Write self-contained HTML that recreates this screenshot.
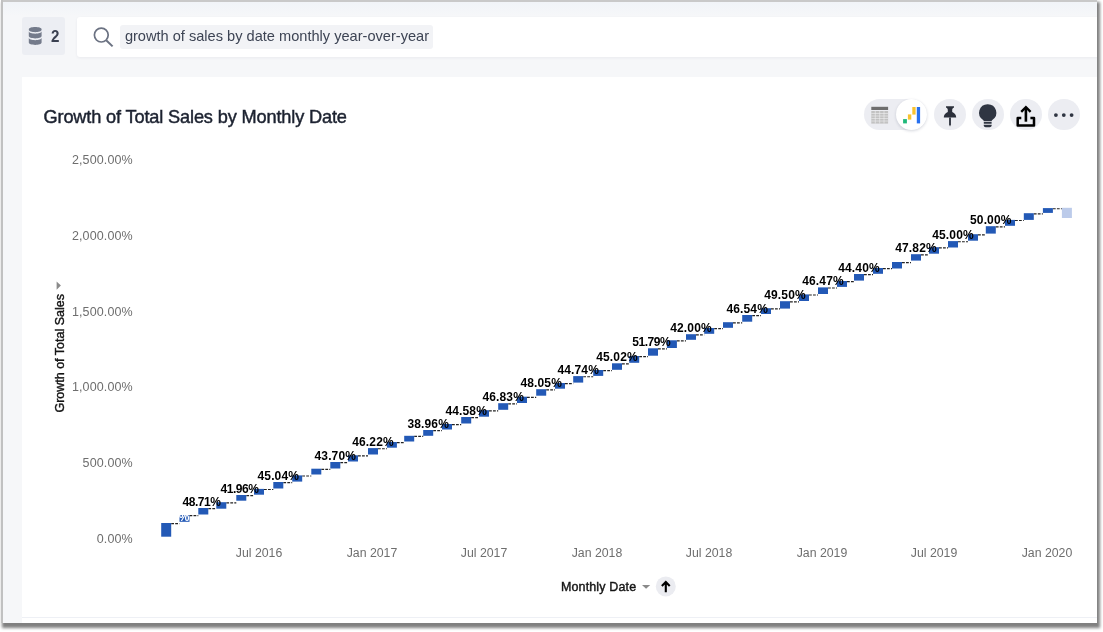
<!DOCTYPE html>
<html><head><meta charset="utf-8"><title>Growth of Total Sales by Monthly Date</title>
<style>
html,body{margin:0;padding:0;background:#fff;}
body{width:1103px;height:632px;position:relative;overflow:hidden;font-family:"Liberation Sans",sans-serif;}
.frame{position:absolute;left:1px;top:0;width:1095.6px;height:623.2px;background:linear-gradient(#f1f4f8 2px,#f6f7f9 16px);overflow:hidden;}
.wrap{position:absolute;left:2px;top:1.5px;width:1097.7px;height:626.2px;background:#808080;filter:blur(1.5px);}
.bt{position:absolute;left:0;top:0;width:1096px;height:2px;background:#c9c9c9;}
.bl{position:absolute;left:0;top:0;width:2px;height:624px;background:#c1c1c1;}
.ds{position:absolute;left:21px;top:17px;width:43px;height:38.4px;background:#eceef3;border-radius:3px;}
.ds span{position:absolute;left:29.2px;top:9.5px;font-size:17.2px;font-weight:bold;color:#3a4050;line-height:18px;transform:scaleX(.88);transform-origin:0 0;}
.sb{position:absolute;left:76px;top:17px;width:1030px;height:40px;background:#fff;border-radius:3px;box-shadow:0 1px 3px rgba(30,40,70,.06);}
.tok{position:absolute;left:43.2px;top:8.1px;width:312.5px;height:23.6px;background:#f2f3f6;border-radius:3px;}
.tok span{position:absolute;left:4.7px;top:.4px;line-height:23px;font-size:14.6px;color:#3d4454;white-space:nowrap;}
.card{position:absolute;left:21px;top:77px;width:1080px;height:560px;background:#fff;}
.title{position:absolute;left:42.5px;top:105.2px;font-size:18.2px;letter-spacing:-.155px;line-height:24px;color:#1c2230;white-space:nowrap;-webkit-text-stroke:0.45px #1c2230;}
.hl{position:absolute;left:21px;top:617px;width:1080px;height:1px;background:#eef0f5;}
svg.chart{position:absolute;left:-1px;top:0;}
.dl{font-size:12px;letter-spacing:.15px;font-weight:bold;fill:#000;font-family:"Liberation Sans",sans-serif;}
.dlo{stroke:#fff;stroke-width:2px;stroke-linejoin:round;fill:#fff;}
.ax{font-size:12.5px;letter-spacing:.12px;fill:#6e6e6e;font-family:"Liberation Sans",sans-serif;}
.ax2{font-size:12.3px;letter-spacing:0;}
.at{font-size:12.5px;letter-spacing:.14px;fill:#141414;font-family:"Liberation Sans",sans-serif;stroke:#141414;stroke-width:.4px;}
.pill{position:absolute;left:862.8px;top:99.2px;width:63.2px;height:31.2px;border-radius:16px;background:#ecedf2;}
.knob{position:absolute;left:895.1px;top:99.2px;width:31px;height:31.2px;border-radius:16px;background:#fff;box-shadow:0 1px 3px rgba(30,40,70,.18);}
.cb{position:absolute;top:99.1px;width:31.9px;height:31.4px;border-radius:16px;background:#ecedf2;}
svg.ic{position:absolute;left:-1px;top:0;}
</style></head><body>
<div class="wrap"></div>
<div class="frame">
 <div class="ds"><span>2</span></div>
 <div class="sb"><div class="tok"><span>growth of sales by date monthly year-over-year</span></div></div>
 <div class="card"></div>
 <div class="hl"></div>
 <div class="title">Growth of Total Sales by Monthly Date</div>
 <div class="pill"></div><div class="knob"></div>
 <div class="cb" style="left:932.7px"></div><div class="cb" style="left:970.8px"></div><div class="cb" style="left:1008.9px"></div><div class="cb" style="left:1046.9px"></div>
 <svg class="chart" width="1103" height="632" viewBox="0 0 1103 632">
 <line x1="171.2" y1="523.6" x2="179.5" y2="523.6" stroke="#222" stroke-width="1.15" stroke-dasharray="2.8 1.2"/>
<line x1="189.5" y1="515.6" x2="198.3" y2="515.6" stroke="#222" stroke-width="1.15" stroke-dasharray="2.8 1.2"/>
<line x1="208.3" y1="508.6" x2="216.3" y2="508.6" stroke="#222" stroke-width="1.15" stroke-dasharray="2.8 1.2"/>
<line x1="226.3" y1="502.8" x2="236.3" y2="502.8" stroke="#222" stroke-width="1.15" stroke-dasharray="2.8 1.2"/>
<line x1="246.3" y1="495.6" x2="254.0" y2="495.6" stroke="#222" stroke-width="1.15" stroke-dasharray="2.8 1.2"/>
<line x1="264.0" y1="489.5" x2="273.3" y2="489.5" stroke="#222" stroke-width="1.15" stroke-dasharray="2.8 1.2"/>
<line x1="283.3" y1="482.6" x2="292.2" y2="482.6" stroke="#222" stroke-width="1.15" stroke-dasharray="2.8 1.2"/>
<line x1="302.2" y1="476.0" x2="311.3" y2="476.0" stroke="#222" stroke-width="1.15" stroke-dasharray="2.8 1.2"/>
<line x1="321.3" y1="469.3" x2="330.3" y2="469.3" stroke="#222" stroke-width="1.15" stroke-dasharray="2.8 1.2"/>
<line x1="340.3" y1="462.6" x2="348.0" y2="462.6" stroke="#222" stroke-width="1.15" stroke-dasharray="2.8 1.2"/>
<line x1="358.0" y1="455.9" x2="368.0" y2="455.9" stroke="#222" stroke-width="1.15" stroke-dasharray="2.8 1.2"/>
<line x1="378.0" y1="448.7" x2="386.9" y2="448.7" stroke="#222" stroke-width="1.15" stroke-dasharray="2.8 1.2"/>
<line x1="396.9" y1="442.6" x2="404.2" y2="442.6" stroke="#222" stroke-width="1.15" stroke-dasharray="2.8 1.2"/>
<line x1="414.2" y1="436.4" x2="423.2" y2="436.4" stroke="#222" stroke-width="1.15" stroke-dasharray="2.8 1.2"/>
<line x1="433.2" y1="430.6" x2="442.0" y2="430.6" stroke="#222" stroke-width="1.15" stroke-dasharray="2.8 1.2"/>
<line x1="452.0" y1="424.6" x2="461.2" y2="424.6" stroke="#222" stroke-width="1.15" stroke-dasharray="2.8 1.2"/>
<line x1="471.2" y1="417.6" x2="479.0" y2="417.6" stroke="#222" stroke-width="1.15" stroke-dasharray="2.8 1.2"/>
<line x1="489.0" y1="410.8" x2="498.2" y2="410.8" stroke="#222" stroke-width="1.15" stroke-dasharray="2.8 1.2"/>
<line x1="508.2" y1="403.8" x2="517.0" y2="403.8" stroke="#222" stroke-width="1.15" stroke-dasharray="2.8 1.2"/>
<line x1="527.0" y1="397.3" x2="536.2" y2="397.3" stroke="#222" stroke-width="1.15" stroke-dasharray="2.8 1.2"/>
<line x1="546.2" y1="389.8" x2="555.0" y2="389.8" stroke="#222" stroke-width="1.15" stroke-dasharray="2.8 1.2"/>
<line x1="565.0" y1="383.6" x2="573.2" y2="383.6" stroke="#222" stroke-width="1.15" stroke-dasharray="2.8 1.2"/>
<line x1="583.2" y1="376.7" x2="593.2" y2="376.7" stroke="#222" stroke-width="1.15" stroke-dasharray="2.8 1.2"/>
<line x1="603.2" y1="370.6" x2="612.0" y2="370.6" stroke="#222" stroke-width="1.15" stroke-dasharray="2.8 1.2"/>
<line x1="622.0" y1="363.9" x2="629.2" y2="363.9" stroke="#222" stroke-width="1.15" stroke-dasharray="2.8 1.2"/>
<line x1="639.2" y1="356.6" x2="648.0" y2="356.6" stroke="#222" stroke-width="1.15" stroke-dasharray="2.8 1.2"/>
<line x1="658.0" y1="348.9" x2="666.9" y2="348.9" stroke="#222" stroke-width="1.15" stroke-dasharray="2.8 1.2"/>
<line x1="676.9" y1="340.9" x2="686.0" y2="340.9" stroke="#222" stroke-width="1.15" stroke-dasharray="2.8 1.2"/>
<line x1="696.0" y1="334.8" x2="704.2" y2="334.8" stroke="#222" stroke-width="1.15" stroke-dasharray="2.8 1.2"/>
<line x1="714.2" y1="328.6" x2="723.0" y2="328.6" stroke="#222" stroke-width="1.15" stroke-dasharray="2.8 1.2"/>
<line x1="733.0" y1="322.8" x2="742.2" y2="322.8" stroke="#222" stroke-width="1.15" stroke-dasharray="2.8 1.2"/>
<line x1="752.2" y1="315.6" x2="761.0" y2="315.6" stroke="#222" stroke-width="1.15" stroke-dasharray="2.8 1.2"/>
<line x1="771.0" y1="308.8" x2="780.0" y2="308.8" stroke="#222" stroke-width="1.15" stroke-dasharray="2.8 1.2"/>
<line x1="790.0" y1="301.8" x2="799.0" y2="301.8" stroke="#222" stroke-width="1.15" stroke-dasharray="2.8 1.2"/>
<line x1="809.0" y1="295.0" x2="818.0" y2="295.0" stroke="#222" stroke-width="1.15" stroke-dasharray="2.8 1.2"/>
<line x1="828.0" y1="288.0" x2="837.0" y2="288.0" stroke="#222" stroke-width="1.15" stroke-dasharray="2.8 1.2"/>
<line x1="847.0" y1="281.6" x2="854.0" y2="281.6" stroke="#222" stroke-width="1.15" stroke-dasharray="2.8 1.2"/>
<line x1="864.0" y1="274.6" x2="873.0" y2="274.6" stroke="#222" stroke-width="1.15" stroke-dasharray="2.8 1.2"/>
<line x1="883.0" y1="268.6" x2="892.0" y2="268.6" stroke="#222" stroke-width="1.15" stroke-dasharray="2.8 1.2"/>
<line x1="902.0" y1="262.6" x2="911.0" y2="262.6" stroke="#222" stroke-width="1.15" stroke-dasharray="2.8 1.2"/>
<line x1="921.0" y1="254.8" x2="929.0" y2="254.8" stroke="#222" stroke-width="1.15" stroke-dasharray="2.8 1.2"/>
<line x1="939.0" y1="247.8" x2="948.0" y2="247.8" stroke="#222" stroke-width="1.15" stroke-dasharray="2.8 1.2"/>
<line x1="958.0" y1="241.7" x2="968.0" y2="241.7" stroke="#222" stroke-width="1.15" stroke-dasharray="2.8 1.2"/>
<line x1="978.0" y1="234.8" x2="985.8" y2="234.8" stroke="#222" stroke-width="1.15" stroke-dasharray="2.8 1.2"/>
<line x1="995.8" y1="226.8" x2="1005.0" y2="226.8" stroke="#222" stroke-width="1.15" stroke-dasharray="2.8 1.2"/>
<line x1="1015.0" y1="220.5" x2="1023.8" y2="220.5" stroke="#222" stroke-width="1.15" stroke-dasharray="2.8 1.2"/>
<line x1="1033.8" y1="213.8" x2="1042.9" y2="213.8" stroke="#222" stroke-width="1.15" stroke-dasharray="2.8 1.2"/>
<line x1="1052.9" y1="208.7" x2="1061.9" y2="208.7" stroke="#222" stroke-width="1.15" stroke-dasharray="2.8 1.2"/>
<rect x="161.2" y="523.0" width="10" height="13.7" fill="#2359b6"/>
<rect x="179.5" y="515.0" width="10" height="6.8" fill="#2359b6"/>
<rect x="198.3" y="508.0" width="10" height="6.5" fill="#2359b6"/>
<rect x="216.3" y="502.2" width="10" height="6.5" fill="#2359b6"/>
<rect x="236.3" y="495.0" width="10" height="5.7" fill="#2359b6"/>
<rect x="254.0" y="488.9" width="10" height="5.8" fill="#2359b6"/>
<rect x="273.3" y="482.0" width="10" height="6.5" fill="#2359b6"/>
<rect x="292.2" y="475.4" width="10" height="6.2" fill="#2359b6"/>
<rect x="311.3" y="468.7" width="10" height="5.8" fill="#2359b6"/>
<rect x="330.3" y="462.0" width="10" height="6.5" fill="#2359b6"/>
<rect x="348.0" y="455.3" width="10" height="6.2" fill="#2359b6"/>
<rect x="368.0" y="448.1" width="10" height="6.4" fill="#2359b6"/>
<rect x="386.9" y="442.0" width="10" height="5.7" fill="#2359b6"/>
<rect x="404.2" y="435.8" width="10" height="5.7" fill="#2359b6"/>
<rect x="423.2" y="430.0" width="10" height="5.8" fill="#2359b6"/>
<rect x="442.0" y="424.0" width="10" height="5.5" fill="#2359b6"/>
<rect x="461.2" y="417.0" width="10" height="6.5" fill="#2359b6"/>
<rect x="479.0" y="410.2" width="10" height="6.5" fill="#2359b6"/>
<rect x="498.2" y="403.2" width="10" height="6.6" fill="#2359b6"/>
<rect x="517.0" y="396.7" width="10" height="6.3" fill="#2359b6"/>
<rect x="536.2" y="389.2" width="10" height="6.5" fill="#2359b6"/>
<rect x="555.0" y="383.0" width="10" height="5.7" fill="#2359b6"/>
<rect x="573.2" y="376.1" width="10" height="6.5" fill="#2359b6"/>
<rect x="593.2" y="370.0" width="10" height="5.9" fill="#2359b6"/>
<rect x="612.0" y="363.3" width="10" height="6.5" fill="#2359b6"/>
<rect x="629.2" y="356.0" width="10" height="6.8" fill="#2359b6"/>
<rect x="648.0" y="348.3" width="10" height="7.4" fill="#2359b6"/>
<rect x="666.9" y="340.3" width="10" height="7.7" fill="#2359b6"/>
<rect x="686.0" y="334.2" width="10" height="5.6" fill="#2359b6"/>
<rect x="704.2" y="328.0" width="10" height="5.8" fill="#2359b6"/>
<rect x="723.0" y="322.2" width="10" height="5.6" fill="#2359b6"/>
<rect x="742.2" y="315.0" width="10" height="6.7" fill="#2359b6"/>
<rect x="761.0" y="308.2" width="10" height="5.8" fill="#2359b6"/>
<rect x="780.0" y="301.2" width="10" height="7.4" fill="#2359b6"/>
<rect x="799.0" y="294.4" width="10" height="6.6" fill="#2359b6"/>
<rect x="818.0" y="287.4" width="10" height="6.6" fill="#2359b6"/>
<rect x="837.0" y="281.0" width="10" height="5.9" fill="#2359b6"/>
<rect x="854.0" y="274.0" width="10" height="6.6" fill="#2359b6"/>
<rect x="873.0" y="268.0" width="10" height="5.8" fill="#2359b6"/>
<rect x="892.0" y="262.0" width="10" height="6.5" fill="#2359b6"/>
<rect x="911.0" y="254.2" width="10" height="6.4" fill="#2359b6"/>
<rect x="929.0" y="247.2" width="10" height="6.5" fill="#2359b6"/>
<rect x="948.0" y="241.1" width="10" height="6.4" fill="#2359b6"/>
<rect x="968.0" y="234.2" width="10" height="6.5" fill="#2359b6"/>
<rect x="985.8" y="226.2" width="10" height="7.4" fill="#2359b6"/>
<rect x="1005.0" y="219.9" width="10" height="5.9" fill="#2359b6"/>
<rect x="1023.8" y="213.2" width="10" height="6.7" fill="#2359b6"/>
<rect x="1042.9" y="208.1" width="10" height="4.8" fill="#2359b6"/>
<rect x="1061.9" y="207.8" width="10" height="10.2" fill="#bccbea"/>
<text x="189.6" y="521.1" text-anchor="end" class="dl" style="fill:#fff">%</text>
<text x="201.8" y="505.7" text-anchor="middle" class="dl" textLength="38.6" lengthAdjust="spacing">48.71%</text>
<text x="239.8" y="492.7" text-anchor="middle" class="dl" textLength="38.6" lengthAdjust="spacing">41.96%</text>
<text x="278.3" y="479.7" text-anchor="middle" class="dl">45.04%</text>
<text x="335.3" y="459.7" text-anchor="middle" class="dl">43.70%</text>
<text x="373.0" y="445.8" text-anchor="middle" class="dl">46.22%</text>
<text x="428.2" y="427.7" text-anchor="middle" class="dl">38.96%</text>
<text x="466.2" y="414.7" text-anchor="middle" class="dl">44.58%</text>
<text x="503.2" y="400.9" text-anchor="middle" class="dl">46.83%</text>
<text x="541.2" y="386.9" text-anchor="middle" class="dl">48.05%</text>
<text x="578.2" y="373.8" text-anchor="middle" class="dl">44.74%</text>
<text x="617.0" y="361.0" text-anchor="middle" class="dl">45.02%</text>
<text x="651.5" y="346.0" text-anchor="middle" class="dl" textLength="38.6" lengthAdjust="spacing">51.79%</text>
<text x="691.0" y="331.9" text-anchor="middle" class="dl">42.00%</text>
<text x="747.2" y="312.7" text-anchor="middle" class="dl">46.54%</text>
<text x="785.0" y="298.9" text-anchor="middle" class="dl">49.50%</text>
<text x="823.0" y="285.1" text-anchor="middle" class="dl">46.47%</text>
<text x="859.0" y="271.7" text-anchor="middle" class="dl">44.40%</text>
<text x="916.0" y="251.9" text-anchor="middle" class="dl">47.82%</text>
<text x="953.0" y="238.8" text-anchor="middle" class="dl">45.00%</text>
<text x="990.8" y="223.9" text-anchor="middle" class="dl">50.00%</text>
<text x="132.8" y="163.8" text-anchor="end" class="ax">2,500.00%</text>
<text x="132.8" y="239.6" text-anchor="end" class="ax">2,000.00%</text>
<text x="132.8" y="315.5" text-anchor="end" class="ax">1,500.00%</text>
<text x="132.8" y="391.3" text-anchor="end" class="ax">1,000.00%</text>
<text x="132.8" y="467.2" text-anchor="end" class="ax">500.00%</text>
<text x="132.8" y="543.0" text-anchor="end" class="ax">0.00%</text>
<text x="259" y="556.9" text-anchor="middle" class="ax ax2">Jul 2016</text>
<text x="372" y="556.9" text-anchor="middle" class="ax ax2">Jan 2017</text>
<text x="484" y="556.9" text-anchor="middle" class="ax ax2">Jul 2017</text>
<text x="597" y="556.9" text-anchor="middle" class="ax ax2">Jan 2018</text>
<text x="709" y="556.9" text-anchor="middle" class="ax ax2">Jul 2018</text>
<text x="822" y="556.9" text-anchor="middle" class="ax ax2">Jan 2019</text>
<text x="934" y="556.9" text-anchor="middle" class="ax ax2">Jul 2019</text>
<text x="1047" y="556.9" text-anchor="middle" class="ax ax2">Jan 2020</text>
<text transform="translate(63.5,353.3) rotate(-90)" text-anchor="middle" class="at" style="letter-spacing:0">Growth of Total Sales</text>
<polygon points="56.6,281.4 60.9,285.5 56.6,289.7" fill="#8a8a8a"/>
<text x="598.6" y="590.8" text-anchor="middle" class="at">Monthly Date</text>
<polygon points="642,585 650.2,585 646.1,588.8" fill="#8a8a8a"/>
<circle cx="665.8" cy="586.4" r="10" fill="#ebecf1"/>
<path d="M665.8 591.3 V582.2 M662.6 585.2 L665.8 582 L669 585.2" fill="none" stroke="#000" stroke-width="2.1" stroke-linecap="square" stroke-linejoin="miter"/>
 </svg>
 <svg class="ic" width="1103" height="632" viewBox="0 0 1103 632">
  <!-- database icon -->
  <g fill="#747b8b">
   <path d="M28.8 29.4 c0 -3.2 12.8 -3.2 12.8 0 v.4 c0 3.2 -12.8 3.2 -12.8 0z"/>
   <path d="M28.8 31.35 c0 3.2 12.8 3.2 12.8 0 v4.7 c0 3.2 -12.8 3.2 -12.8 0z"/>
   <path d="M28.8 37.85 c0 3.2 12.8 3.2 12.8 0 v4.75 c0 3.2 -12.8 3.2 -12.8 0z"/>
  </g>
  <!-- search icon -->
  <circle cx="101.3" cy="35.1" r="6.9" fill="none" stroke="#6b7282" stroke-width="1.7"/>
  <path d="M106.2 40.2 L112.6 46.4" stroke="#6b7282" stroke-width="2" stroke-linecap="butt"/>
  <!-- table icon -->
  <rect x="871.3" y="106.8" width="16.8" height="3.2" fill="#6e6e6e"/>
  <g fill="#c2c2c2">
   <rect x="871.3" y="111" width="16.8" height="12.6"/>
  </g>
  <g stroke="#f0f0f2" stroke-width=".6">
   <path d="M875.3 111V123.6M879.7 111V123.6M884 111V123.6M871.3 113.5H888.1M871.3 116H888.1M871.3 118.5H888.1M871.3 121H888.1"/>
  </g>
  <!-- chart icon -->
  <rect x="903.1" y="119.1" width="3.8" height="4.3" fill="#1fb87a"/>
  <rect x="907.9" y="114.4" width="3.4" height="5.2" fill="#f9c22e"/>
  <rect x="912.3" y="107" width="3.3" height="7.6" fill="#f9c22e"/>
  <rect x="916.8" y="107" width="3.3" height="16.4" fill="#2770ef"/>
  <!-- pin -->
  <path d="M946 106.3 h8 v1.2 c-1.2 .6 -1.8 1.4 -1.8 2.6 v2 c2.6 1 4 3 4 5.3 h-12.4 c0-2.3 1.4-4.3 4-5.3 v-2 c0-1.2-.6-2-1.8-2.6z" fill="#2b303b"/>
  <path d="M949.1 117.4 h1.8 v7 l-.9 2 l-.9-2z" fill="#2b303b"/>
  <!-- bulb -->
  <path d="M987.7 104.2 a8.55 8.55 0 0 1 4.6 15.8 c-.5 .4 -.6 .7 -.6 1.2 h-8 c0-.5-.1-.8-.6-1.2 a8.55 8.55 0 0 1 4.6-15.800z" fill="#2f3542"/>
  <rect x="983.7" y="122.1" width="8" height="1.6" rx=".4" fill="#2f3542"/>
  <path d="M983.7 124.7 h8 v.6 c0 1.2 -1 1.9 -2 1.9 h-4 c-1 0 -2-.7 -2-1.900z" fill="#2f3542"/>
  <!-- share -->
  <path d="M1021.3 118 H1017.7 V125.6 H1034 V118 H1030.400" fill="none" stroke="#000" stroke-width="2.5" stroke-linejoin="round"/>
  <path d="M1025.9 121.700 V108" stroke="#000" stroke-width="2.6" fill="none"/>
  <path d="M1021.2 111.800 L1025.9 107.2 L1030.600 111.800" stroke="#000" stroke-width="2.4" fill="none"/>
  <!-- more -->
  <circle cx="1055.9" cy="115.1" r="1.9" fill="#2f3542"/><circle cx="1063.8" cy="115.1" r="1.9" fill="#2f3542"/><circle cx="1071.6" cy="115.1" r="1.9" fill="#2f3542"/>
 </svg>
 <div class="bt"></div><div class="bl"></div>
</div>
</body></html>
